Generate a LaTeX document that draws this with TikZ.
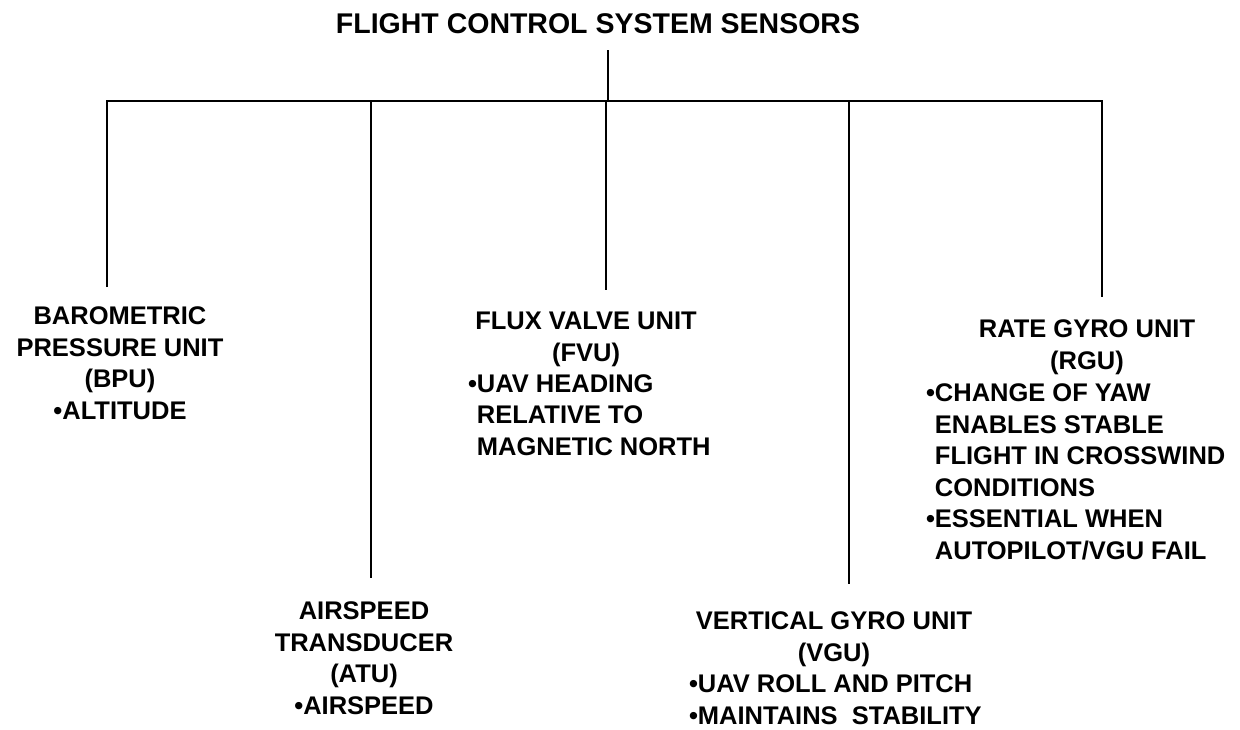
\documentclass[tikz,border=0pt]{standalone}
\usepackage{fontspec}
\setmainfont{Liberation Sans}
\usetikzlibrary{positioning}

\begin{document}
\begin{tikzpicture}[
  x=1pt, y=-1pt, line width=2pt,
  heading/.style={align=center, anchor=base, inner sep=0pt, font=\fontsize{28.5}{34}\selectfont\bfseries},
  unit/.style={align=center, anchor=base, inner sep=0pt, font=\fontsize{25.5}{31.5}\selectfont\bfseries},
  facts/.style={align=left, anchor=base west, inner sep=0pt, font=\fontsize{25.5}{31.5}\selectfont\bfseries}
]
  \useasboundingbox (0,0) rectangle (1240,729);

  \node[heading] (title) at (598,33) {FLIGHT CONTROL SYSTEM SENSORS};

  % bus and drop ends
  \coordinate (stem) at (608,50);
  \coordinate (hub) at (608,101);
  \coordinate (bpuend) at (107,287);
  \coordinate (atuend) at (371,578);
  \coordinate (fvuend) at (606,290);
  \coordinate (vguend) at (849,584);
  \coordinate (rguend) at (1102,297);

  % nodes sit on the baseline of their last line
  \node[unit] (bpu) at (120,419) {BAROMETRIC\\PRESSURE UNIT\\(BPU)\\•ALTITUDE};
  \node[unit] (atu) at (364,714) {AIRSPEED\\TRANSDUCER\\(ATU)\\•AIRSPEED};
  \node[unit] (fvu) at (586,361) {FLUX VALVE UNIT\\(FVU)};
  \node[facts] (fvufacts) at (467,455) {•UAV HEADING\\\hphantom{•}RELATIVE TO\\\hphantom{•}MAGNETIC NORTH};
  \node[unit] (vgu) at (834,661) {VERTICAL GYRO UNIT\\(VGU)};
  \node[facts] (vgufacts) at (688,724) {•UAV ROLL AND PITCH\\•MAINTAINS\ \ STABILITY};
  \node[unit] (rgu) at (1087,369) {RATE GYRO UNIT\\(RGU)};
  \node[facts] (rgufacts) at (925,559) {•CHANGE OF YAW\\\hphantom{•}ENABLES STABLE\\\hphantom{•}FLIGHT IN CROSSWIND\\\hphantom{•}CONDITIONS\\•ESSENTIAL WHEN\\\hphantom{•}AUTOPILOT/VGU FAIL};

  \draw (stem) -- (hub);
  \draw (bpuend) -- (bpuend |- hub) -- (rguend |- hub) -- (rguend);
  \draw (atuend |- hub) -- (atuend);
  \draw (fvuend |- hub) -- (fvuend);
  \draw (vguend |- hub) -- (vguend);
\end{tikzpicture}
\end{document}
